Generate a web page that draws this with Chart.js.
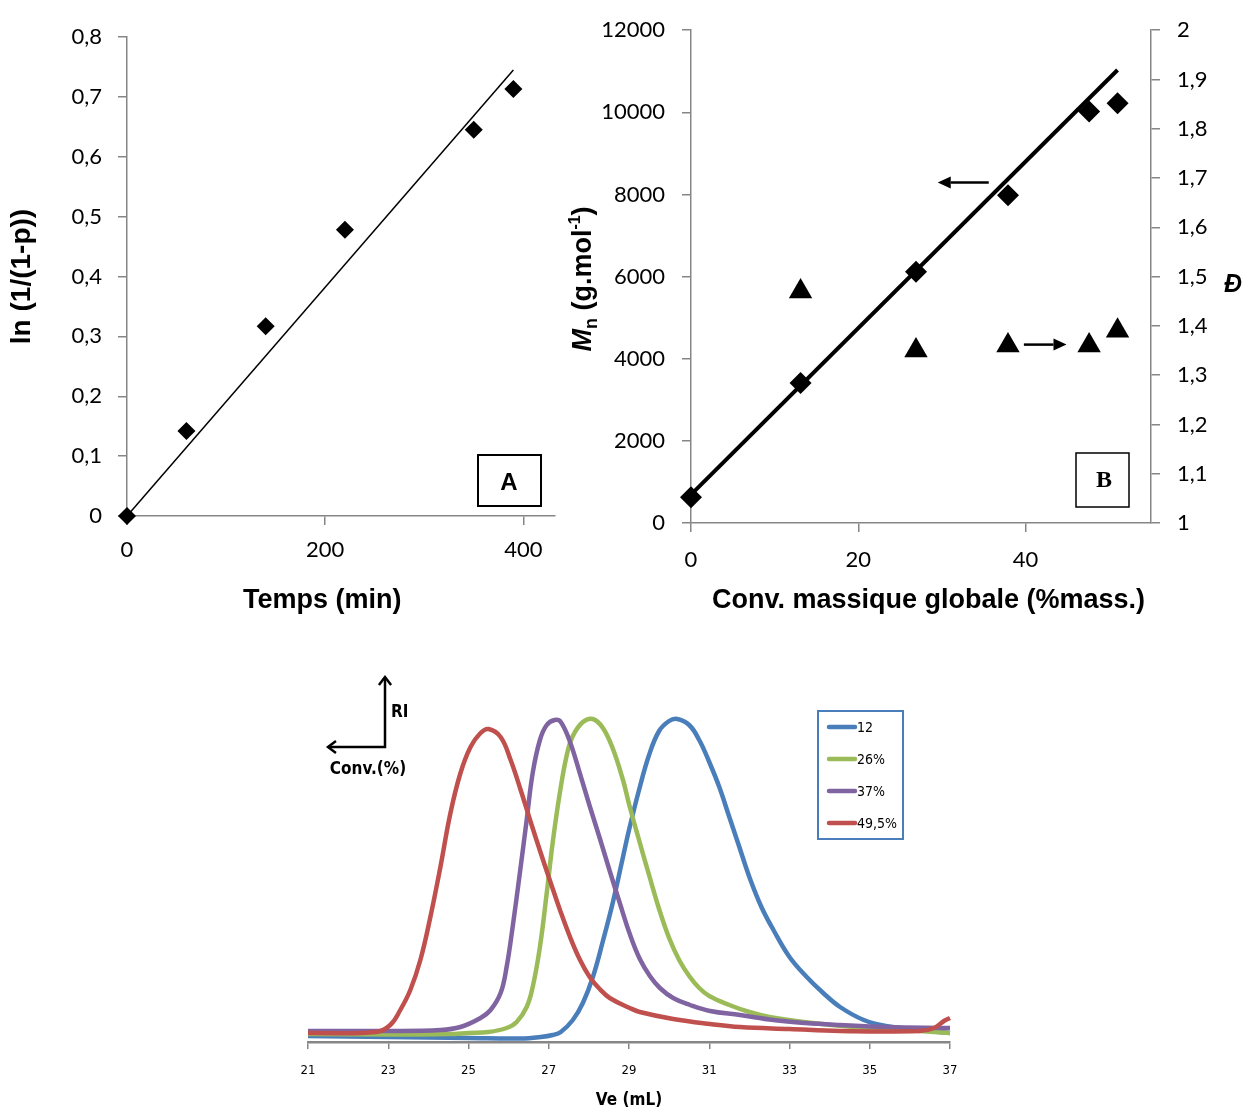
<!DOCTYPE html>
<html>
<head>
<meta charset="utf-8">
<script src="https://cdn.jsdelivr.net/npm/chart.js@4.4.1/dist/chart.umd.min.js"></script>
<style>
  body { margin: 0; background: #fff; }
  #wrap { position: relative; width: 1244px; height: 1113px; }
  canvas { position: absolute; }
</style>
</head>
<body>
<div id="wrap">
  <canvas id="chartA" width="565" height="630" style="left:0;top:0"></canvas>
  <canvas id="chartB" width="679" height="630" style="left:565px;top:0"></canvas>
  <canvas id="chartC" width="700" height="453" style="left:280px;top:660px"></canvas>
</div>
<script>
// A : ln(1/(1-p)) vs time
const timeMin = [0, 60, 140, 220, 350, 390];
const lnInv = [0, 0.142, 0.317, 0.478, 0.645, 0.713];
const fitTimeA = [0, 390];
const fitLnA = [0, 0.745];
const timeTicks = [0, 200, 400];
const lnTicks = [0, 0.1, 0.2, 0.3, 0.4, 0.5, 0.6, 0.7, 0.8];

// B : Mn and dispersity vs conversion
const convMn = [0, 13.1, 26.9, 37.9, 47.6, 51];
const mn = [630, 3408, 6116, 7983, 10019, 10220];
const convD = [13.1, 26.9, 37.9, 47.6, 51];
const dispersity = [1.47, 1.35, 1.36, 1.36, 1.39];
const fitConvB = [0, 51];
const fitMnB = [690, 11030];
const convTicks = [0, 20, 40];
const mnTicks = [0, 2000, 4000, 6000, 8000, 10000, 12000];
const dTicks = [1, 1.1, 1.2, 1.3, 1.4, 1.5, 1.6, 1.7, 1.8, 1.9, 2];

// C : SEC traces (RI signal, arbitrary units)
const seriesNames = ['12', '26%', '37%', '49,5%'];
const ve12 = [21, 23, 25, 26.3, 26.8, 27.1, 27.3, 27.6, 27.85, 28.1, 28.35, 28.6, 28.85, 29.0, 29.25, 29.5, 29.75, 30.0, 30.2, 30.5, 30.75, 31.0, 31.25, 31.5, 31.75, 32.0, 32.3, 32.6, 33.0, 33.43, 33.84, 34.26, 34.85, 35.4, 36.25, 37];
const ri12 = [6, 5, 4, 3.5, 5, 7, 10, 22, 39, 65, 101, 140, 185, 212, 252, 287, 311, 321, 323, 317, 302, 280, 255, 225, 195, 165, 135, 112, 85, 65, 49, 35, 22, 16, 12, 9];
const ve26 = [21, 23, 24.5, 25.0, 25.5, 25.95, 26.2, 26.45, 26.6, 26.78, 26.95, 27.1, 27.28, 27.45, 27.6, 27.85, 28.1, 28.35, 28.6, 28.85, 29.0, 29.25, 29.5, 29.75, 30.0, 30.25, 30.5, 30.75, 31.0, 31.5, 32.0, 32.5, 33.35, 34.6, 35.85, 37];
const ri26 = [8, 7.5, 8, 9, 10, 14, 20, 35, 55, 95, 149, 200, 250, 287, 306, 320, 323, 314, 293, 262, 238, 202, 167, 133, 104, 82, 66, 54, 46, 37, 30, 25, 20, 15, 12, 9];
const ve37 = [21, 23, 24.3, 24.8, 25.3, 25.55, 25.8, 25.95, 26.1, 26.28, 26.45, 26.6, 26.78, 26.95, 27.15, 27.3, 27.53, 27.78, 28.02, 28.27, 28.52, 28.77, 29.02, 29.27, 29.52, 29.77, 30.1, 30.52, 31.02, 31.77, 32.6, 33.4, 34.26, 35.4, 37];
const ri37 = [11, 11, 12, 15, 24, 32, 49, 75, 115, 169, 222, 269, 302, 317, 322, 320, 300, 268, 236, 204, 171, 139, 108, 83, 66, 54, 44, 37, 31, 27, 22, 19, 17, 15, 14];
const ve49 = [21, 22.7, 23.05, 23.3, 23.55, 23.8, 24.05, 24.3, 24.55, 24.8, 25.05, 25.3, 25.5, 25.8, 26.05, 26.3, 26.55, 26.8, 27.05, 27.28, 27.53, 27.78, 28.02, 28.27, 28.52, 29.02, 29.27, 30.1, 31.02, 31.77, 33.0, 34.26, 36.25, 36.6, 36.85, 37];
const ri49 = [9, 10, 17, 32, 52, 82, 125, 175, 229, 269, 295, 309, 313, 305, 282, 252, 220, 189, 159, 132, 105, 82, 65, 53, 44, 34, 30, 23, 18, 15, 13, 11, 11, 14, 21, 24];
const veTicks = [21, 23, 25, 27, 29, 31, 33, 35, 37];

const sans = '"Liberation Sans", Arial, sans-serif';
const narrow = '"Liberation Sans Narrow", "Arial Narrow", "DejaVu Sans Condensed", sans-serif';
const tickFont = { family: 'Lato, "Open Sans", sans-serif', size: 22 };
const titleFont = { family: sans, size: 27, weight: 'bold' };
const axisGray = '#868686';

const pts = (xs, ys) => xs.map((x, i) => ({ x: x, y: ys[i] }));
const comma = v => String(+v.toFixed(1)).replace('.', ',');
const useTicks = list => scale => { scale.ticks = list.map(v => ({ value: v })); };

function axis(extra) {
  return Object.assign({
    grid: { drawOnChartArea: false, tickLength: 9, color: axisGray, lineWidth: 1.5 },
    border: { color: axisGray, width: 1.5 },
  }, extra);
}

function arrowFilled(ctx, x1, y1, x2, y2) {
  const a = Math.atan2(y2 - y1, x2 - x1), L = 13, W = 6;
  const bx = x2 - L * Math.cos(a), by = y2 - L * Math.sin(a);
  ctx.save();
  ctx.strokeStyle = ctx.fillStyle = '#000';
  ctx.lineWidth = 2.5;
  ctx.beginPath(); ctx.moveTo(x1, y1); ctx.lineTo(bx, by); ctx.stroke();
  ctx.beginPath();
  ctx.moveTo(x2, y2);
  ctx.lineTo(bx + W * Math.sin(a), by - W * Math.cos(a));
  ctx.lineTo(bx - W * Math.sin(a), by + W * Math.cos(a));
  ctx.closePath(); ctx.fill();
  ctx.restore();
}

function openHead(ctx, x, y, a) {
  const L = 10;
  ctx.beginPath();
  ctx.moveTo(x - L * Math.cos(a - 0.65), y - L * Math.sin(a - 0.65));
  ctx.lineTo(x, y);
  ctx.lineTo(x - L * Math.cos(a + 0.65), y - L * Math.sin(a + 0.65));
  ctx.stroke();
}

// ---------- chart A
const boxA = {
  id: 'boxA',
  afterDraw(chart) {
    const ctx = chart.ctx;
    ctx.save();
    ctx.strokeStyle = '#000'; ctx.lineWidth = 2;
    ctx.strokeRect(478, 455, 63, 51);
    ctx.fillStyle = '#000'; ctx.font = 'bold 24px ' + sans;
    ctx.textAlign = 'center'; ctx.textBaseline = 'middle';
    ctx.fillText('A', 509, 483);
    ctx.restore();
  }
};

new Chart(document.getElementById('chartA'), {
  type: 'scatter',
  data: {
    datasets: [
      { label: 'ln (1/(1-p))', data: pts(timeMin, lnInv), pointStyle: 'rectRot', pointRadius: 9,
        backgroundColor: '#000', borderWidth: 0, clip: false },
      { label: 'fit', data: pts(fitTimeA, fitLnA), showLine: true, borderColor: '#000', borderWidth: 1.5,
        pointRadius: 0, clip: false }
    ]
  },
  options: {
    responsive: false, animation: false, events: [],
    layout: { padding: { top: 37, right: 10, left: 0, bottom: 0 } },
    plugins: { legend: { display: false }, tooltip: { enabled: false } },
    scales: {
      x: axis({
        type: 'linear', min: 0, max: 432,
        afterBuildTicks: useTicks(timeTicks),
        afterFit: s => { s.height = 114; },
        ticks: { font: tickFont, color: '#000', padding: 12, maxRotation: 0 },
        title: { display: true, text: 'Temps (min)\u00a0\u00a0\u00a0\u00a0\u00a0', font: titleFont, color: '#000', padding: { top: 0, bottom: 13 } }
      }),
      y: axis({
        min: 0, max: 0.8,
        afterBuildTicks: useTicks(lnTicks),
        afterFit: s => { s.width = 127; },
        ticks: { font: tickFont, color: '#000', padding: 16, callback: v => comma(v) },
        title: { display: true, text: 'ln (1/(1-p))', font: { family: sans, size: 28, weight: 'bold' }, color: '#000', padding: { top: 5, bottom: 0 } }
      })
    }
  },
  plugins: [boxA]
});

// ---------- chart B
function drawMnTitle(ctx, cx, cy) {
  const segs = [
    { t: 'M', f: 'italic bold 27px ' + sans, dy: 0 },
    { t: 'n', f: 'bold 18px ' + sans, dy: 6 },
    { t: ' (g.mol', f: 'bold 27px ' + sans, dy: 0 },
    { t: '-1', f: 'bold 16px ' + sans, dy: -11 },
    { t: ')', f: 'bold 27px ' + sans, dy: 0 }
  ];
  ctx.save();
  ctx.translate(cx, cy); ctx.rotate(-Math.PI / 2);
  let w = 0;
  segs.forEach(s => { ctx.font = s.f; s.w = ctx.measureText(s.t).width; w += s.w; });
  let x = -w / 2;
  ctx.fillStyle = '#000'; ctx.textBaseline = 'alphabetic'; ctx.textAlign = 'left';
  segs.forEach(s => { ctx.font = s.f; ctx.fillText(s.t, x, s.dy + 10); x += s.w; });
  ctx.restore();
}

const notesB = {
  id: 'notesB',
  afterDraw(chart) {
    const ctx = chart.ctx, sx = chart.scales.x, sy = chart.scales.y, sd = chart.scales.y1;
    arrowFilled(ctx, sx.getPixelForValue(35.6), sy.getPixelForValue(8290), sx.getPixelForValue(29.5), sy.getPixelForValue(8290));
    arrowFilled(ctx, sx.getPixelForValue(39.8), sd.getPixelForValue(1.362), sx.getPixelForValue(44.9), sd.getPixelForValue(1.362));
    ctx.save();
    ctx.strokeStyle = '#000'; ctx.lineWidth = 1.5;
    ctx.strokeRect(511, 453, 53, 54);
    ctx.fillStyle = '#000'; ctx.textAlign = 'center'; ctx.textBaseline = 'middle';
    ctx.font = 'bold 24px "Liberation Serif", "Times New Roman", serif';
    ctx.fillText('B', 539, 481);
    ctx.font = 'italic bold 25px ' + sans;
    ctx.fillText('Đ', 668, 285);
    ctx.restore();
    drawMnTitle(ctx, 16, 279);
  }
};

new Chart(document.getElementById('chartB'), {
  type: 'scatter',
  data: {
    datasets: [
      { label: 'Mn', data: pts(convMn, mn), yAxisID: 'y', pointStyle: 'rectRot', pointRadius: 11,
        backgroundColor: '#000', borderWidth: 0, clip: false },
      { label: 'Đ', data: pts(convD, dispersity), yAxisID: 'y1', pointStyle: 'triangle', pointRadius: 13.5,
        backgroundColor: '#000', borderWidth: 0, clip: false },
      { label: 'fit', data: pts(fitConvB, fitMnB), yAxisID: 'y', showLine: true, borderColor: '#000',
        borderWidth: 4, pointRadius: 0, clip: false }
    ]
  },
  options: {
    responsive: false, animation: false, events: [],
    layout: { padding: { top: 28, right: 0, left: 0, bottom: 0 } },
    plugins: { legend: { display: false }, tooltip: { enabled: false } },
    scales: {
      x: axis({
        type: 'linear', min: 0, max: 55,
        afterBuildTicks: useTicks(convTicks),
        afterFit: s => { s.height = 107; },
        ticks: { font: tickFont, color: '#000', padding: 15, maxRotation: 0 },
        title: { display: true, text: '\u00a0\u00a0Conv. massique globale (%mass.)', font: titleFont, color: '#000', padding: { top: 0, bottom: 13 } }
      }),
      y: axis({
        position: 'left', min: 0, max: 12000,
        afterBuildTicks: useTicks(mnTicks),
        afterFit: s => { s.width = 126; },
        ticks: { font: tickFont, color: '#000', padding: 17, callback: v => String(v) }
      }),
      y1: axis({
        position: 'right', min: 1, max: 2,
        afterBuildTicks: useTicks(dTicks),
        afterFit: s => { s.width = 93; },
        ticks: { font: tickFont, color: '#000', padding: 17, callback: v => comma(v) }
      })
    }
  },
  plugins: [notesB]
});

// ---------- chart C
const seriesColors = ['#4A7EBB', '#9BBB59', '#8064A2', '#C0504D'];
const traces = [[ve12, ri12], [ve26, ri26], [ve37, ri37], [ve49, ri49]];

const notesC = {
  id: 'notesC',
  afterDraw(chart) {
    const ctx = chart.ctx;
    ctx.save();
    // legend
    ctx.strokeStyle = '#4A7EBB'; ctx.lineWidth = 2;
    ctx.strokeRect(538, 51, 85, 128);
    ctx.lineWidth = 4.5; ctx.lineCap = 'round';
    ctx.font = '14px ' + narrow; ctx.textBaseline = 'middle'; ctx.textAlign = 'left';
    chart.data.datasets.forEach((ds, i) => {
      const y = 67 + i * 32;
      ctx.strokeStyle = ds.borderColor;
      ctx.beginPath(); ctx.moveTo(549, y); ctx.lineTo(575, y); ctx.stroke();
      ctx.fillStyle = '#000';
      ctx.fillText(ds.label, 577, y + 1);
    });
    // RI / Conv.(%) arrows
    ctx.lineCap = 'butt'; ctx.lineJoin = 'miter';
    ctx.strokeStyle = '#000'; ctx.lineWidth = 2.5;
    ctx.beginPath(); ctx.moveTo(105, 17); ctx.lineTo(105, 87); ctx.lineTo(48, 87); ctx.stroke();
    openHead(ctx, 105, 17, -Math.PI / 2);
    openHead(ctx, 48, 87, Math.PI);
    ctx.fillStyle = '#000'; ctx.font = 'bold 17px ' + narrow;
    ctx.textAlign = 'left'; ctx.fillText('RI', 111, 53);
    ctx.textAlign = 'center'; ctx.fillText('Conv.(%)', 88, 110);
    ctx.restore();
  }
};

new Chart(document.getElementById('chartC'), {
  type: 'scatter',
  data: {
    datasets: traces.map((tr, i) => ({
      label: seriesNames[i], data: pts(tr[0], tr[1]), showLine: true,
      borderColor: seriesColors[i], backgroundColor: seriesColors[i], borderWidth: 4.5,
      pointRadius: 0, tension: 0.4, order: 3 - i, clip: false
    }))
  },
  options: {
    responsive: false, animation: false, events: [],
    layout: { padding: { top: 42, right: 30, left: 28, bottom: 0 } },
    plugins: { legend: { display: false }, tooltip: { enabled: false } },
    scales: {
      x: {
        type: 'linear', min: 21, max: 37,
        afterBuildTicks: useTicks(veTicks),
        afterFit: s => { s.height = 71; },
        grid: { drawOnChartArea: false, tickLength: 7, color: axisGray, lineWidth: 1.5 },
        border: { color: axisGray, width: 2.5 },
        ticks: { font: { family: narrow, size: 13 }, color: '#000', padding: 14, maxRotation: 0 },
        title: { display: true, text: 'Ve (mL)', font: { family: narrow, size: 17, weight: 'bold' }, color: '#000', padding: { top: 0, bottom: 2 } }
      },
      y: { display: false, min: 0, max: 340 }
    }
  },
  plugins: [notesC]
});
</script>
</body>
</html>
